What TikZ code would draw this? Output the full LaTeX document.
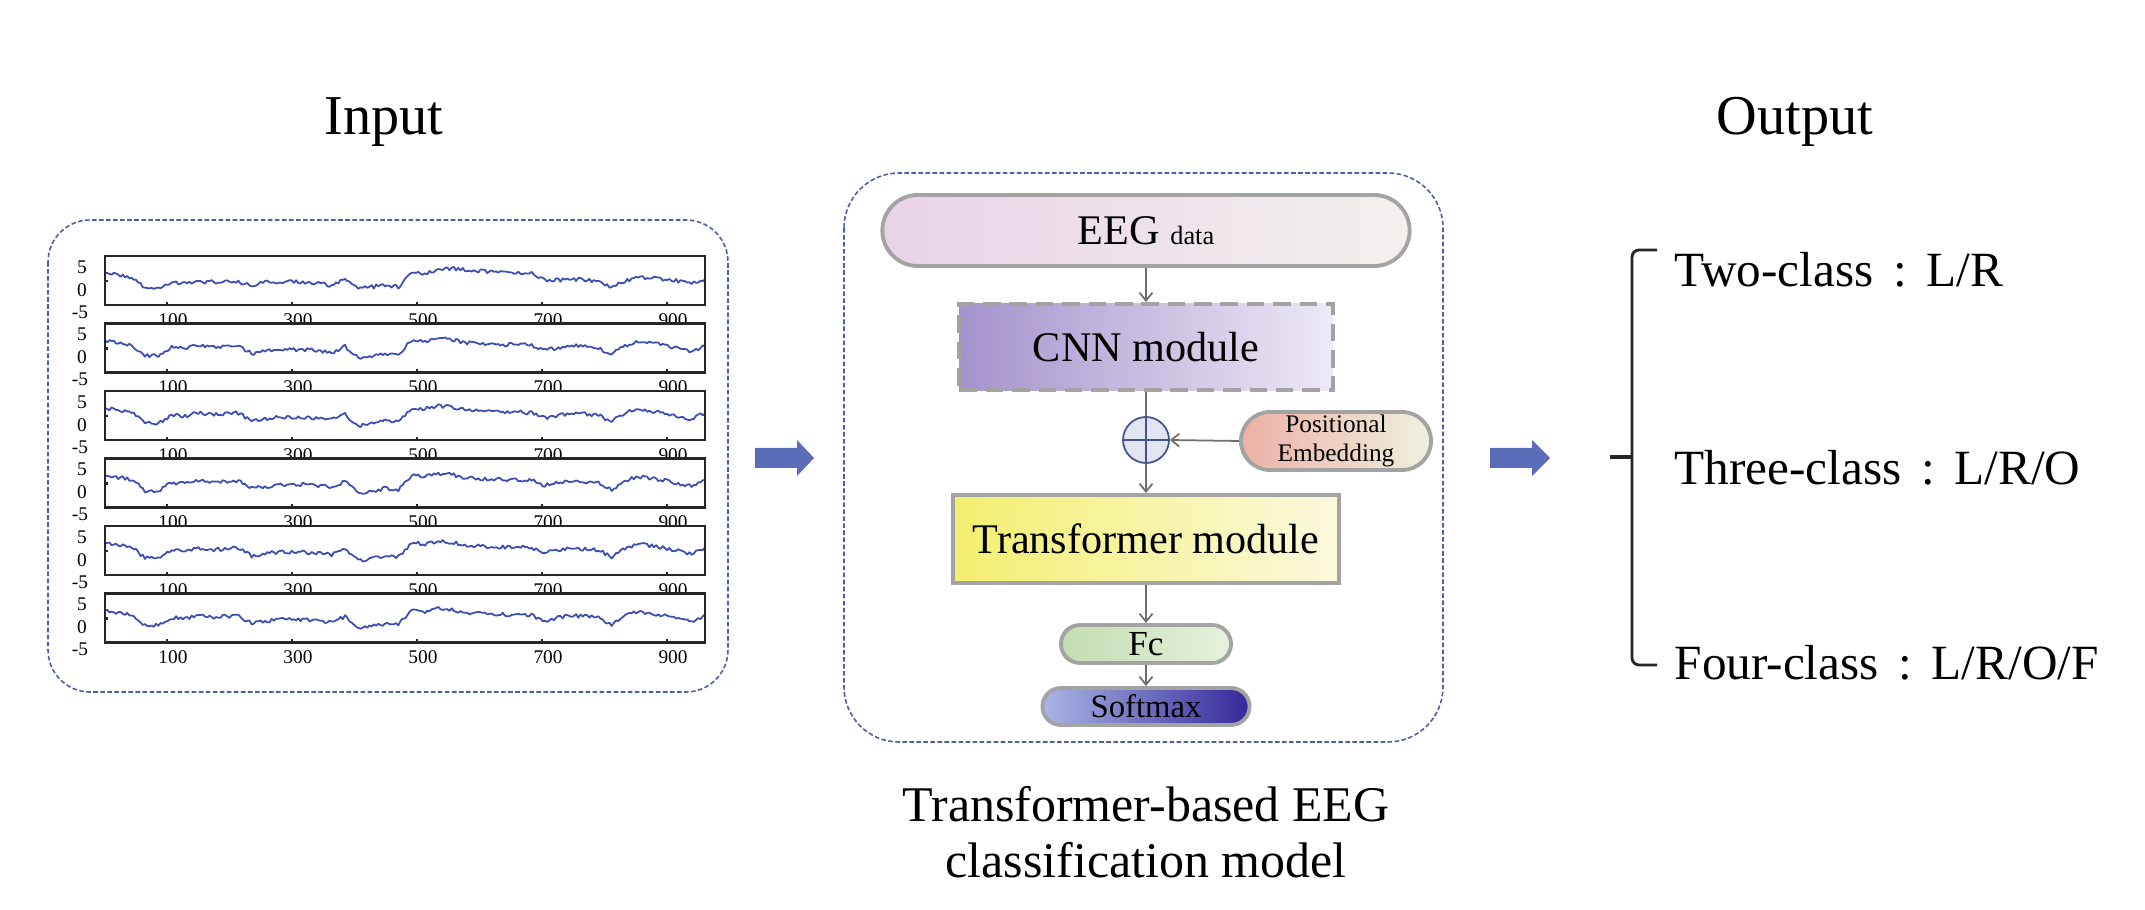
\documentclass[tikz,border=0pt]{standalone}
\usepackage{fontspec}
\setmainfont{Liberation Serif}
\usetikzlibrary{arrows.meta}

\definecolor{dashblue}{HTML}{4A5FA8}
\definecolor{tracecol}{HTML}{3C4DB3}
\definecolor{bigarrow}{HTML}{5B6CB9}
\definecolor{boxgray}{HTML}{A3A3A3}
\definecolor{linegray}{HTML}{6E6E6E}
\definecolor{circblue}{HTML}{44548C}
\definecolor{circfill}{HTML}{E2E4F2}
\definecolor{eegL}{HTML}{E8D3E6}
\definecolor{eegR}{HTML}{F3F0EE}
\definecolor{cnnL}{HTML}{A493CC}
\definecolor{cnnR}{HTML}{EDE9F6}
\definecolor{peL}{HTML}{EEB0A6}
\definecolor{peR}{HTML}{EEF1DF}
\definecolor{trL}{HTML}{F3EF70}
\definecolor{trR}{HTML}{FBF9DE}
\definecolor{fcL}{HTML}{C3DDB2}
\definecolor{fcR}{HTML}{E6F1DC}
\definecolor{smL}{HTML}{AAB6E4}
\definecolor{smM}{HTML}{7E80C6}
\definecolor{smR}{HTML}{35279A}

% #1 = panel top (px), #2 = panel id, #3 = anchor heights
\newcommand\eegpanel[3]{%
  \fill[white] (105,#1) rectangle (705,{#1+49});
  \pgfmathsetseed{#2*11+5}
  \draw[tracepen] (105,{#1+49-32})
    \foreach \v [count=\i, remember=\v as \lv (initially 32)] in {#3} {
      -- ({105+(\i-5/6)*13.333},{#1+49-(5/6*\lv+1/6*\v)-1.9*rand})
      -- ({105+(\i-4/6)*13.333},{#1+49-(4/6*\lv+2/6*\v)-1.9*rand})
      -- ({105+(\i-3/6)*13.333},{#1+49-(3/6*\lv+3/6*\v)-1.9*rand})
      -- ({105+(\i-2/6)*13.333},{#1+49-(2/6*\lv+4/6*\v)-1.9*rand})
      -- ({105+(\i-1/6)*13.333},{#1+49-(1/6*\lv+5/6*\v)-1.9*rand})
      -- ({105+\i*13.333},{#1+49-\v-1.9*rand})
    };
  \draw[framepen] (105,#1) rectangle (705,{#1+49});
  \foreach \tx in {167,292,417,542,667}
    \draw[framepen] (\tx,{#1+49}) -- ++(0,-3);
  \draw[framepen] (105,{#1+25}) -- ++(3,0);
  \node[ticklab] (yp#2) at (82,{#1+11}) {5};
  \node[ticklab] (yz#2) at (82,{#1+34}) {0};
  \node[ticklab] (ym#2) at (80,{#1+56}) {-5};
  \foreach \tx/\lab [count=\j] in {167/100,292/300,417/500,542/700,667/900}
    \node[ticklab] (xl#2-\j) at ({\tx+6},{#1+64}) {\lab};
}

\begin{document}
\begin{tikzpicture}[x=0.01cm,y=-0.01cm,
  outerbox/.style={draw=dashblue, line width=0.45pt, dash pattern=on 1.3pt off 0.7pt},
  tracepen/.style={draw=tracecol, line width=0.5pt, line join=round},
  framepen/.style={draw=black!85, line width=0.6pt},
  ticklab/.style={font=\fontsize{5.5}{6}\selectfont, inner sep=0pt},
  block/.style={draw=boxgray, line width=1.1pt, inner sep=0pt},
  conn/.style={draw=linegray, line width=0.5pt, -{Straight Barb[length=0.8mm,width=1.3mm]}},
  plainline/.style={draw=linegray, line width=0.5pt},
  bigarr/.style={fill=bigarrow},
  title/.style={font=\fontsize{16}{19}\selectfont, anchor=base, inner sep=0pt},
  captext/.style={font=\fontsize{14.2}{16}\selectfont, anchor=base, inner sep=0pt},
  outtext/.style={font=\fontsize{14}{16}\selectfont, anchor=base west, inner sep=0pt},
  bracketpen/.style={draw=black!85, line width=0.8pt}
]
\useasboundingbox (0,0) rectangle (2145,910);

% titles
\node[title] (input) at (384,135) {Input};
\node[title] (output) at (1795,135) {Output};

% left input box
\draw[outerbox, rounded corners=0.42cm] (48,220) rectangle (728,692);
\eegpanel{256}{1}{30,28,17,18,22,22,23,23,23,23,20,23,23,23,23,22,19,26,16,18,20,18,33,31,35,37,35,34,33,32,32,32,25,25,26,25,24,18,24,28,27,26,24,22,26}
\eegpanel{323.5}{2}{30,28,17,17,25,24,27,25,26,27,19,21,23,23,23,22,20,26,14,16,19,18,32,31,34,33,30,29,28,28,28,27,22,25,27,26,25,18,27,31,29,27,24,21,27}
\eegpanel{391}{3}{30,28,17,17,25,24,27,25,26,27,19,21,23,23,23,22,20,26,14,16,19,18,32,31,34,33,30,29,28,28,28,27,22,25,27,26,25,18,27,31,29,27,24,21,27}
\eegpanel{458.5}{4}{30,28,17,17,25,24,27,25,26,27,19,21,23,23,23,22,20,26,14,16,19,18,32,31,34,33,30,29,28,28,28,27,22,25,27,26,25,18,27,31,29,27,24,21,27}
\eegpanel{526}{5}{30,28,17,17,25,24,27,25,26,27,19,21,23,23,23,22,20,26,14,16,19,18,32,31,34,33,30,29,28,28,28,27,22,25,27,26,25,18,27,31,29,27,24,21,27}
\eegpanel{593.5}{6}{30,28,17,17,25,24,27,25,26,27,19,21,23,23,23,22,20,26,14,16,19,18,32,31,34,33,30,29,28,28,28,27,22,25,27,26,25,18,27,31,29,27,24,21,27}

% big arrows
\path[bigarr] (755,448) -- (797,448) -- (797,440) -- (814,458) -- (797,476) -- (797,468) -- (755,468) -- cycle;
\path[bigarr] (1490,448) -- (1532,448) -- (1532,440) -- (1550,458) -- (1532,476) -- (1532,468) -- (1490,468) -- cycle;

% central model box
\draw[outerbox, rounded corners=0.55cm] (844,173) rectangle (1443,742);

\node[block, minimum width=5.27cm, minimum height=0.71cm, rounded corners=0.355cm,
      left color=eegL, right color=eegR] (eeg) at (1146,230.5)
  {\fontsize{12}{14}\selectfont EEG \fontsize{7.5}{9}\selectfont data};
\node[block, dash pattern=on 5pt off 2.5pt, minimum width=3.73cm, minimum height=0.86cm,
      left color=cnnL, right color=cnnR, font=\fontsize{12}{14}\selectfont] (cnn) at (1146,347) {CNN module};
\node[circle, draw=circblue, fill=circfill, line width=0.5pt, minimum size=0.46cm, inner sep=0pt] (plus) at (1146,440) {};
\draw[circblue, line width=0.5pt] (plus.north) -- (plus.south) (plus.west) -- (plus.east);
\node[block, minimum width=1.9cm, minimum height=0.58cm, rounded corners=0.29cm,
      left color=peL, right color=peR, align=center,
      font=\fontsize{7.2}{8}\selectfont] (pe) at (1336,441) {Positional\\Embedding};
\node[block, minimum width=3.85cm, minimum height=0.88cm,
      left color=trL, right color=trR, font=\fontsize{12}{14}\selectfont] (tr) at (1146,539) {Transformer module};
\node[block, minimum width=1.7cm, minimum height=0.38cm, rounded corners=0.19cm,
      left color=fcL, right color=fcR, font=\fontsize{10}{12}\selectfont] (fc) at (1146,644) {Fc};
\node[block, minimum width=2.07cm, minimum height=0.37cm, rounded corners=0.185cm,
      left color=smL, middle color=smM, right color=smR, font=\fontsize{9.3}{11}\selectfont] (sm) at (1146,706.5) {Softmax};

\draw[conn] (eeg.south) -- (cnn.north);
\draw[plainline] (cnn.south) -- (plus.north);
\draw[conn] (plus.south) -- (tr.north);
\draw[conn] (pe.west) -- (plus.east);
\draw[conn] (tr.south) -- (fc.north);
\draw[conn] (fc.south) -- (sm.north);

% caption
\node[captext] (cap1) at (1146,822) {Transformer-based EEG};
\node[captext] (cap2) at (1146,878) {classification model};

% output bracket
\draw[bracketpen, rounded corners=2pt] (1657,250) -- (1632,250) -- (1632,665) -- (1657,665);
\draw[bracketpen, line width=1.3pt] (1610,457) -- (1632,457);

\node[outtext] (two) at (1674,287) {Two-class\hspace{0.4em}:\hspace{0.4em}L/R};
\node[outtext] (three) at (1674,485) {Three-class\hspace{0.4em}:\hspace{0.4em}L/R/O};
\node[outtext] (four) at (1674,680) {Four-class\hspace{0.4em}:\hspace{0.4em}L/R/O/F};
\end{tikzpicture}
\end{document}
